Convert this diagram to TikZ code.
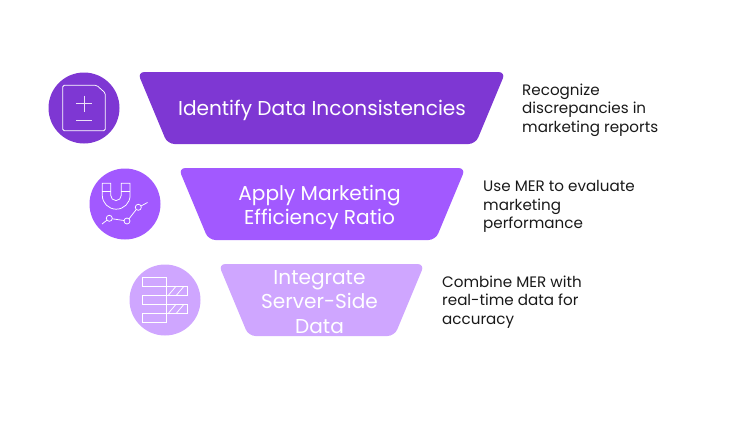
\documentclass[tikz,border=0pt]{standalone}
\usepackage{fontspec}
\setmainfont{Poppins}
\definecolor{cA}{HTML}{7E37D3}
\definecolor{cB}{HTML}{A259FF}
\definecolor{cC}{HTML}{CFA6FF}
\tikzset{
  band/.style={rounded corners=7pt,draw=none},
  disc/.style={circle,minimum size=71pt,inner sep=0pt,draw=none},
  title/.style={text=white,align=center,font=\fontsize{20.1}{24.3}\selectfont,inner sep=0pt},
  side/.style={text=black!90,align=left,anchor=west,font=\fontsize{15.15}{18.6}\selectfont,inner sep=0pt},
  icon/.style={draw=white,line width=0.75pt}
}
\begin{document}
\begin{tikzpicture}[x=1pt,y=-1pt]
\useasboundingbox (0,0) rectangle (741,420);
% row 1
\node[disc,fill=cA] (c1) at (84,108) {};
\fill[cA,band] (137.5,72) -- (505.5,72) -- (475.5,144) -- (167.5,144) -- cycle;
\node[title] (t1) at (322,110.5) {Identify Data Inconsistencies};
\node[side] (s1) at (522,110) {Recognize\\discrepancies in\\marketing reports};
\draw[icon,rounded corners=1.5pt] (62.7,85.3) -- (96.7,85.3) -- (105.3,93) -- (105.3,130.7) -- (62.7,130.7) -- cycle;
\draw[icon,draw=white!85!cA] (76,103.5) -- (92,103.5) (84,95.5) -- (84,111.5) (76,120.5) -- (92,120.5);
% row 2
\node[disc,fill=cB] (c2) at (125,204) {};
\fill[cB,band] (178.5,168) -- (465.5,168) -- (435.5,240) -- (208.5,240) -- cycle;
\node[title] (t2) at (319.5,207.3) {Apply Marketing\\Efficiency Ratio};
\node[side] (s2) at (483,206.5) {Use MER to evaluate\\marketing\\performance};
\draw[icon] (102.3,183.3) -- (102.3,195.3) arc[start angle=180,end angle=360,x radius=13.9pt,y radius=13.9pt] -- (130.1,183.3) -- (121.3,183.3) -- (121.3,195.3) arc[start angle=360,end angle=180,x radius=5.3pt,y radius=5.3pt] -- (110.7,183.3) -- cycle;
\draw[icon] (102.3,191.7) -- (110.7,191.7) (121.3,191.7) -- (130.1,191.7);
\draw[icon] (102,224) -- (107.2,220) (112.3,218.8) -- (124,220.5) (129,218.8) -- (136.3,209.5) (141,206) -- (147.5,202.5);
\draw[icon] (109.3,218.3) circle[radius=3pt] (127,221) circle[radius=3pt] (138.3,207.3) circle[radius=3pt];
% row 3
\node[disc,fill=cC] (c3) at (165,300) {};
\fill[cC,band] (218.5,264) -- (424.5,264) -- (394.5,336) -- (248.5,336) -- cycle;
\node[title] (t3) at (319.5,302) {Integrate\\Server-Side\\Data};
\node[side] (s3) at (442,302) {Combine MER with\\real-time data for\\accuracy};
\draw[icon] (142.3,277.3) rectangle (166,286.7) (142.3,295.3) rectangle (166,304.7) (142.3,313.3) rectangle (166,322.7);
\draw[icon] (166,286.7) -- (166,295.3) (166,304.7) -- (166,313.3);
\draw[icon] (166,286.3) -- (187.7,286.3) -- (187.7,295.7) -- (166,295.7)
            (166,304.3) -- (187.7,304.3) -- (187.7,313.7) -- (166,313.7);
\draw[icon] (168,295.7) -- (176,286.3) (176,295.7) -- (184,286.3) (168,313.7) -- (176,304.3) (176,313.7) -- (184,304.3);
\end{tikzpicture}
\end{document}
